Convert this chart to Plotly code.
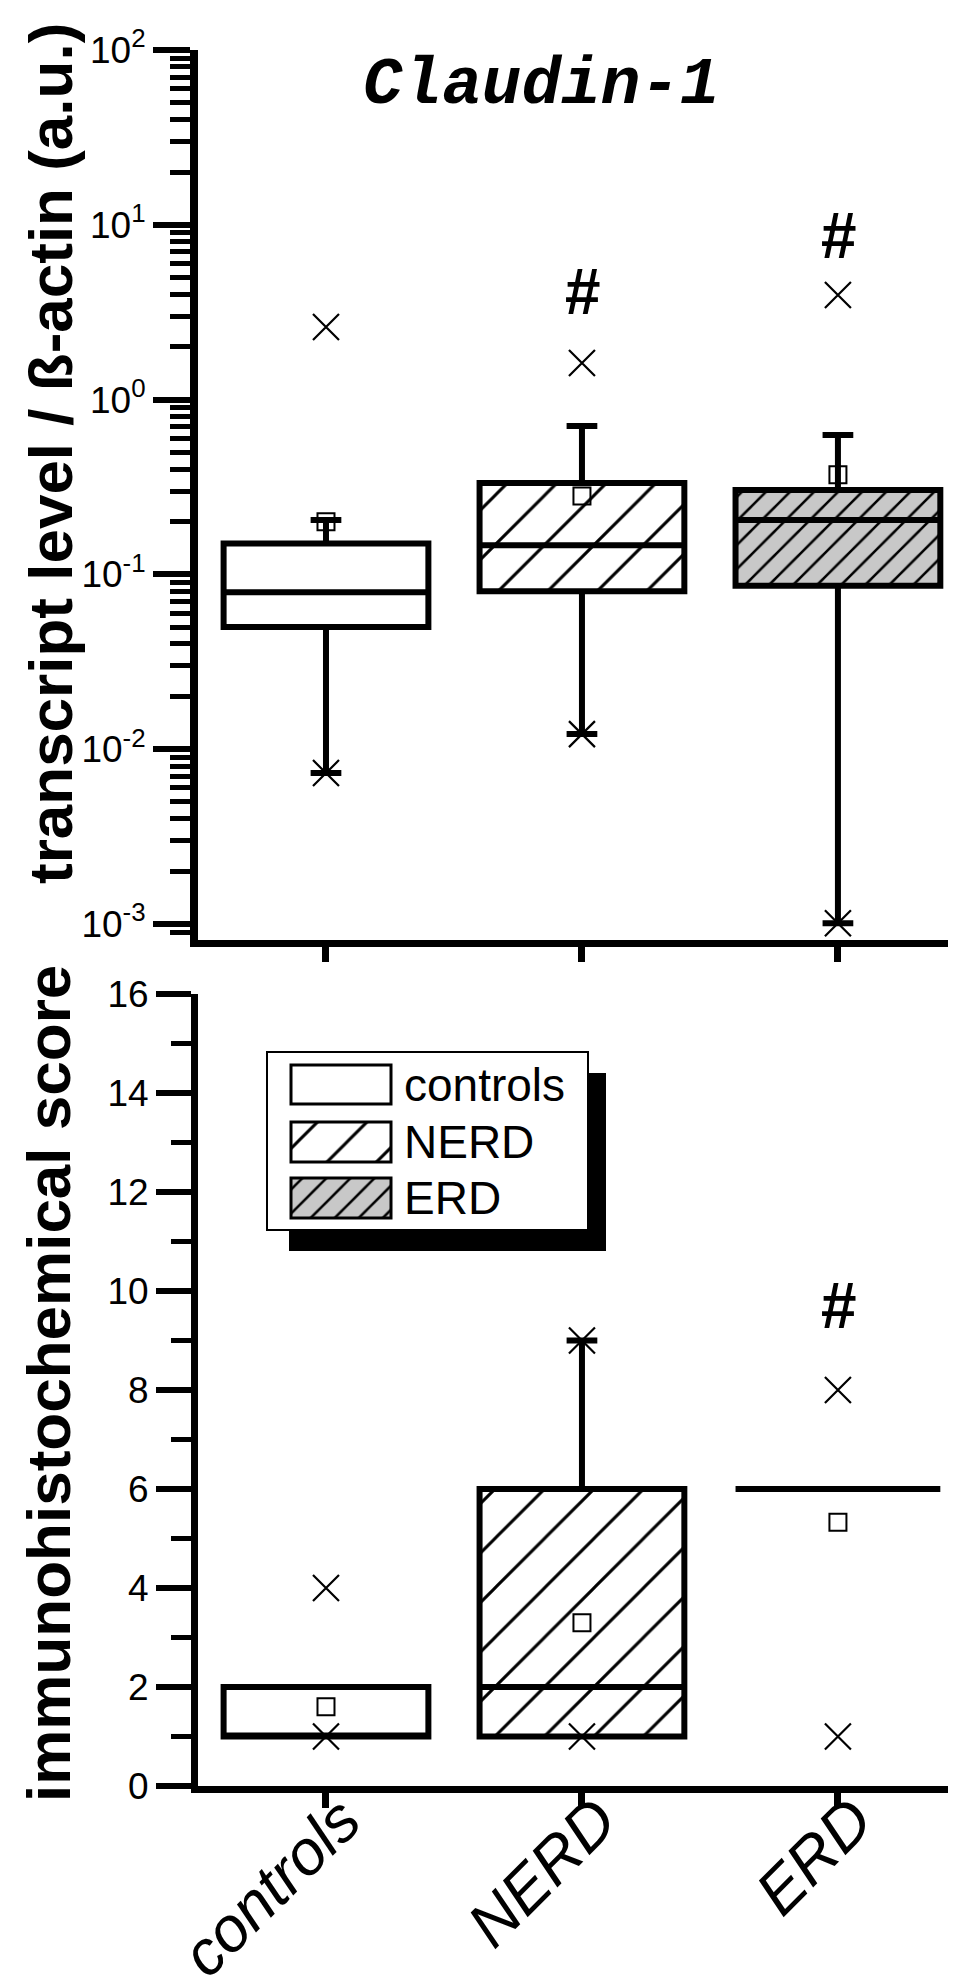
import math

import plotly.graph_objects as go

# ---------------------------------------------------------------------------
# data
# ---------------------------------------------------------------------------
groups = ["controls", "NERD", "ERD"]
pos = [0, 1, 2]

# transcript level / ß-actin (a.u.), log scale
tr_q1 = [0.050, 0.080, 0.086]
tr_median = [0.079, 0.147, 0.205]
tr_q3 = [0.150, 0.333, 0.304]
tr_low = [0.0073, 0.0122, 0.00101]
tr_high = [0.205, 0.706, 0.627]
tr_mean = [0.200, 0.281, 0.371]
tr_min = [0.0073, 0.0122, 0.00101]
tr_max = [2.60, 1.62, 3.97]
tr_sig_groups = [1, 2]
tr_sig_y = [4.1, 8.6]

# immunohistochemical score
ihc_q1 = [1, 1, 6]
ihc_median = [1, 2, 6]
ihc_q3 = [2, 6, 6]
ihc_low = [1, 1, 6]
ihc_high = [2, 9, 6]
ihc_mean = [1.6, 3.3, 5.33]
ihc_min = [1, 1, 1]
ihc_max = [4, 9, 8]
ihc_sig_groups = [2]
ihc_sig_y = [9.7]

# styling per group
FILLS = ["white", "white", "#c8c8c8"]
HATCH = ["", "/", "/"]
HATCH_SIZE = [10, 35, 17]
HATCH_SOLID = [0.2, 0.086, 0.15]

# ---------------------------------------------------------------------------
# page geometry (pixels)
# ---------------------------------------------------------------------------
W, H = 966, 1986
ML, MR, MT, MB = 190, 26, 42, 208
TOP_BOTTOM_PX = 932      # x-axis of upper panel
LOW_TOP_PX = 986         # top of lower panel


def px_x(p):
    return (p - ML) / (W - ML - MR)


def px_y(p):
    return (H - MB - p) / (H - MT - MB)


BOX_W = 0.8
XRANGE = [-0.5, 2.43]
BLACK = "black"


def fill_bar(i, x, base, height, width, xa, ya, line_w=0):
    return go.Bar(
        x=[x], y=[height], base=[base], width=width,
        marker=dict(color=FILLS[i], line=dict(width=line_w, color=BLACK),
                    pattern=dict(shape=HATCH[i], size=HATCH_SIZE[i], solidity=HATCH_SOLID[i],
                                 fgcolor=BLACK, bgcolor=FILLS[i], fgopacity=1)),
        xaxis=xa, yaxis=ya, hoverinfo="skip")


def box_traces(q1, med, q3, low, high, mean, vmin, vmax, xa, ya):
    out = []
    for i in pos:
        if q3[i] > q1[i]:
            out.append(fill_bar(i, pos[i], q1[i], q3[i] - q1[i], BOX_W, xa, ya))
    out.append(go.Box(
        x=pos, q1=q1, median=med, q3=q3, lowerfence=low, upperfence=high,
        orientation="v", width=BOX_W, whiskerwidth=0.15, boxpoints=False,
        line=dict(color=BLACK, width=6), fillcolor="rgba(0,0,0,0)",
        xaxis=xa, yaxis=ya, hoverinfo="skip"))
    out.append(go.Scatter(
        x=pos, y=mean, mode="markers",
        marker=dict(symbol="square-open", size=17, color=BLACK, line=dict(width=2, color=BLACK)),
        xaxis=xa, yaxis=ya, hoverinfo="skip"))
    out.append(go.Scatter(
        x=pos + pos, y=vmin + vmax, mode="markers",
        marker=dict(symbol="x-thin-open", size=26, color=BLACK, line=dict(width=2.2, color=BLACK)),
        xaxis=xa, yaxis=ya, hoverinfo="skip"))
    return out


fig = go.Figure()
for t in box_traces(tr_q1, tr_median, tr_q3, tr_low, tr_high, tr_mean, tr_min, tr_max, "x", "y"):
    fig.add_trace(t)
for t in box_traces(ihc_q1, ihc_median, ihc_q3, ihc_low, ihc_high, ihc_mean, ihc_min, ihc_max, "x2", "y2"):
    fig.add_trace(t)

# --- legend swatches (drawn in the lower panel's data space) ---
low_ppu = (H - MB - LOW_TOP_PX) / 16.0
x_ppu = (W - ML - MR) / (XRANGE[1] - XRANGE[0])


def d2x(p):
    return XRANGE[0] + (p - ML) / x_ppu


def d2y(p):
    return (H - MB - p) / low_ppu


leg_rows_px = [(1057, 1096), (1114, 1154), (1170, 1210)]
sw_x0, sw_x1 = 283, 383
for i, (a, b) in enumerate(leg_rows_px):
    fig.add_trace(fill_bar(i, d2x((sw_x0 + sw_x1) / 2), d2y(b), d2y(a) - d2y(b),
                           (sw_x1 - sw_x0) / x_ppu, "x2", "y2", line_w=3))

shapes = [
    dict(type="rect", xref="paper", yref="paper", layer="below",
         x0=px_x(281), x1=px_x(598), y0=px_y(1065), y1=px_y(1243),
         fillcolor=BLACK, line=dict(width=0)),
    dict(type="rect", xref="paper", yref="paper", layer="below",
         x0=px_x(259), x1=px_x(580), y0=px_y(1044), y1=px_y(1222),
         fillcolor="white", line=dict(width=2, color=BLACK)),
]

annotations = []
for g, (a, b) in zip(groups, leg_rows_px):
    annotations.append(dict(text=g, xref="paper", yref="paper", x=px_x(394), y=px_y((a + b) / 2),
                            xanchor="left", yanchor="middle", showarrow=False,
                            font=dict(size=46, family="Liberation Sans", color=BLACK)))

annotations.append(dict(text="<b><i>Claudin-1</i></b>", xref="paper", yref="paper",
                        x=px_x(533), y=px_y(78), xanchor="center", yanchor="middle",
                        showarrow=False, font=dict(size=66, family="Liberation Mono", color=BLACK)))
annotations.append(dict(text="<b>transcript level / ß-actin (a.u.)</b>", xref="paper", yref="paper",
                        x=px_x(42), y=px_y(446), xanchor="center", yanchor="middle", textangle=-90,
                        showarrow=False, font=dict(size=62, family="Liberation Sans", color=BLACK)))
annotations.append(dict(text="<b>immunohistochemical score</b>", xref="paper", yref="paper",
                        x=px_x(40), y=px_y(1376), xanchor="center", yanchor="middle", textangle=-90,
                        showarrow=False, font=dict(size=62, family="Liberation Sans", color=BLACK)))
sig_font = dict(size=64, family="Liberation Sans", color=BLACK)
for gi, v in zip(tr_sig_groups, tr_sig_y):
    annotations.append(dict(text="<b><i>#</i></b>", xref="x", yref="y", x=gi, y=math.log10(v),
                            showarrow=False, font=sig_font))
for gi, v in zip(ihc_sig_groups, ihc_sig_y):
    annotations.append(dict(text="<b><i>#</i></b>", xref="x2", yref="y2", x=gi, y=v,
                            showarrow=False, font=sig_font))

log_major = [1e-3, 1e-2, 1e-1, 1e0, 1e1, 1e2]
log_text = ["10<sup>-3</sup>", "10<sup>-2</sup>", "10<sup>-1</sup>",
            "10<sup>0</sup>", "10<sup>1</sup>", "10<sup>2</sup>"]
log_minor = [m * 10.0 ** e for e in range(-4, 2) for m in range(2, 10)]

tickfont = dict(size=37, family="Liberation Sans", color=BLACK)
common_x = dict(range=XRANGE, tickvals=pos, ticks="outside", ticklen=15, tickwidth=7,
                tickcolor=BLACK, showline=True, linewidth=7, linecolor=BLACK,
                showgrid=False, zeroline=False, automargin=False)

fig.update_layout(
    width=W, height=H, margin=dict(l=ML, r=MR, t=MT, b=MB, autoexpand=False),
    plot_bgcolor="white", paper_bgcolor="white", showlegend=False, barmode="overlay",
    font=dict(family="Liberation Sans", color=BLACK),
    xaxis=dict(domain=[0, 1], anchor="y", showticklabels=False, **common_x),
    yaxis=dict(domain=[px_y(TOP_BOTTOM_PX), 1], anchor="x", type="log",
               range=[math.log10(1e-3) - 16 / 174.8, 2],
               tickmode="array", tickvals=log_major, ticktext=log_text,
               ticks="outside", ticklen=37, tickwidth=6, tickcolor=BLACK, tickfont=tickfont,
               minor=dict(tickmode="array", tickvals=log_minor, ticks="outside",
                          ticklen=20, tickwidth=5, tickcolor=BLACK),
               showline=True, linewidth=8, linecolor=BLACK, showgrid=False, zeroline=False,
               automargin=False),
    xaxis2=dict(domain=[0, 1], anchor="y2", ticktext=groups, tickangle=-45,
                tickfont=dict(size=63, family="Liberation Sans", color=BLACK, style="italic"),
                ticklabelstandoff=-50, ticklabelshift=16,
                **common_x),
    yaxis2=dict(domain=[0, px_y(LOW_TOP_PX)], anchor="x2", range=[0, 16],
                tickmode="array", tickvals=list(range(0, 17, 2)),
                ticks="outside", ticklen=35, tickwidth=6, tickcolor=BLACK, tickfont=tickfont,
                minor=dict(tickmode="array", tickvals=list(range(1, 16, 2)), ticks="outside",
                           ticklen=20, tickwidth=5, tickcolor=BLACK),
                showline=True, linewidth=7, linecolor=BLACK, showgrid=False, zeroline=False,
                automargin=False),
    shapes=shapes,
    annotations=annotations,
)

fig.write_html("out.html")
